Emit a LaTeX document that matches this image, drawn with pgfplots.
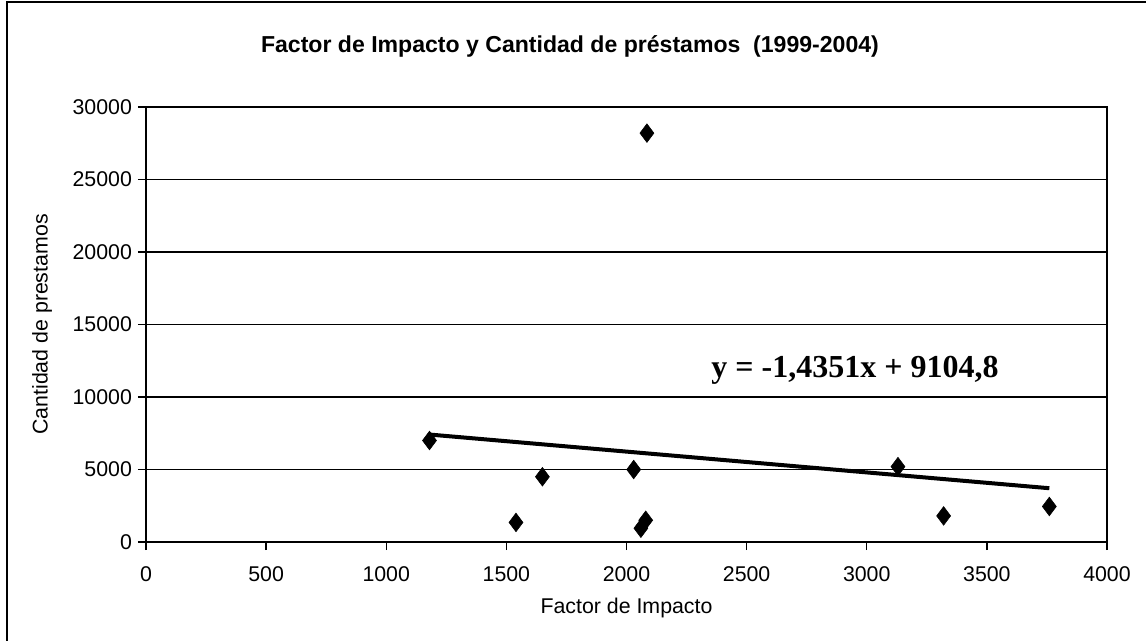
\documentclass[border=0pt]{standalone}
\usepackage{pgfplots}
\pgfplotsset{compat=1.18}
\usepackage{fontspec}
\setmainfont{Liberation Sans}
\newfontfamily\eqfont{Liberation Serif}
\newcommand{\tfont}{\fontsize{16}{19}\selectfont}
\begin{document}
\begin{tikzpicture}
\useasboundingbox (-109.5pt,-73.5pt) rectangle (750pt,406.5pt);
\draw[line width=1pt] (-104.25pt,-80pt) rectangle (760pt,405pt);
\begin{axis}[
  scale only axis,
  width=720.75pt, height=326.25pt,
  xmin=0, xmax=4000, ymin=0, ymax=30000,
  xtick={0,500,...,4000},
  ytick={0,5000,...,30000},
  tick pos=left,
  ymajorgrids,
  grid style={black, line width=1.3pt},
  axis line style={line width=1.8pt},
  tick align=outside,
  major tick length=6pt,
  tick style={black, line width=1pt},
  scaled ticks=false,
  /pgf/number format/1000 sep={},
  /pgf/number format/assume math mode=true,
  every tick label/.append style={font=\tfont},
  xticklabel style={font=\tfont, yshift=-9pt},
  yticklabel style={font=\tfont, xshift=-1pt},
  xlabel={Factor de Impacto},
  ylabel={Cantidad de prestamos},
  label style={font=\tfont},
  xlabel style={at={([yshift=-49.5pt]axis description cs:0.5,0)}, anchor=center},
  ylabel style={at={([xshift=-78pt]axis description cs:0,0.5)}, anchor=center},
  clip=false,
]
\addplot[only marks, mark=diamond*, mark size=7pt, black] coordinates {
  (1180,7000) (1650,4500) (1540,1350) (2030,5000) (2080,1500)
  (2060,950) (3130,5200) (3320,1800) (3760,2450) (2085,28200)
};
\addplot[no marks, black, line width=3pt] coordinates {(1180,7411.4) (3760,3708.8)};
\node[font=\eqfont\bfseries\fontsize{24}{28}\selectfont] at (axis cs:2951,11862) {y = -1,4351x + 9104,8};
\end{axis}
\node[font=\bfseries\fontsize{17.3}{20}\selectfont] at (318pt,372pt) {Factor de Impacto y Cantidad de préstamos~ (1999-2004)};
\end{tikzpicture}
\end{document}
